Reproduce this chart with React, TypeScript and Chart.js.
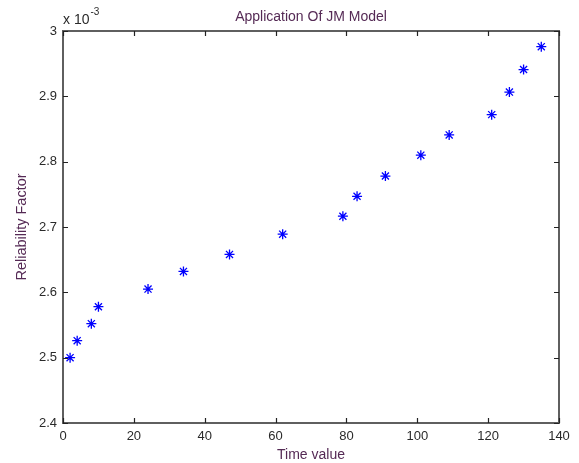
import { useEffect, useRef } from "react";
import { Chart, registerables } from "chart.js";
Chart.register(...registerables);

const chartTitle = "Application Of JM Model";
const xAxisLabel = "Time value";
const yAxisLabel = "Reliability Factor";
const timeValues = [2, 4, 8, 10, 24, 34, 47, 62, 79, 83, 91, 101, 109, 121, 126, 130, 135];
const reliabilityValues = [
  0.0025, 0.002526, 0.002552, 0.002578, 0.002605, 0.002632, 0.002658, 0.002689, 0.0027165,
  0.002747, 0.002778, 0.00281, 0.002841, 0.002872, 0.0029065, 0.002941, 0.002976,
];
const xTicks = [0, 20, 40, 60, 80, 100, 120, 140];
const yTicks = [0.0024, 0.0025, 0.0026, 0.0027, 0.0028, 0.0029, 0.003];
const yTickLabels = ["2.4", "2.5", "2.6", "2.7", "2.8", "2.9", "3"];

const FONT = "'Liberation Sans', Arial, sans-serif";
const TITLE_COLOR = "#552a55";
const TICK_COLOR = "#2a2a2a";
const FRAME_COLOR = "#5f5f5f";

const framePlugin = {
  id: "matlabFrame",
  afterDraw(chart: any) {
    const { ctx, chartArea } = chart;
    const { left, right, top, bottom } = chartArea;
    const xs = chart.scales.x;
    const ys = chart.scales.y;
    ctx.save();
    ctx.strokeStyle = FRAME_COLOR;
    ctx.lineWidth = 2;
    ctx.strokeRect(left, top, right - left, bottom - top);
    ctx.lineWidth = 1.2;
    ctx.strokeStyle = "#222";
    const tl = 5;
    ctx.beginPath();
    xTicks.forEach((v) => {
      const px = Math.round(xs.getPixelForValue(v)) + 0.5;
      ctx.moveTo(px, bottom);
      ctx.lineTo(px, bottom - tl);
      ctx.moveTo(px, top);
      ctx.lineTo(px, top + tl);
    });
    yTicks.forEach((v) => {
      const py = Math.round(ys.getPixelForValue(v)) + 0.5;
      ctx.moveTo(left, py);
      ctx.lineTo(left + tl, py);
      ctx.moveTo(right, py);
      ctx.lineTo(right - tl, py);
    });
    ctx.stroke();

    // Title
    ctx.fillStyle = TITLE_COLOR;
    ctx.font = `14px ${FONT}`;
    ctx.textAlign = "center";
    ctx.textBaseline = "middle";
    const cx = (left + right) / 2;
    ctx.fillText(chartTitle, cx, 17);
    // x label
    ctx.fillText(xAxisLabel, cx, 455);
    // y label
    ctx.save();
    ctx.translate(22, (top + bottom) / 2);
    ctx.rotate(-Math.PI / 2);
    ctx.font = `14.5px ${FONT}`;
    ctx.fillText(yAxisLabel, 0, 0);
    ctx.restore();

    // exponent
    ctx.fillStyle = TICK_COLOR;
    ctx.textAlign = "left";
    ctx.textBaseline = "alphabetic";
    ctx.font = `14px ${FONT}`;
    ctx.fillText("x 10", left, 24);
    const w = ctx.measureText("x 10").width;
    ctx.font = `10px ${FONT}`;
    ctx.fillText("-3", left + w + 1, 15);
    ctx.restore();
  },
};

export default function App() {
  const ref = useRef<HTMLCanvasElement>(null);
  useEffect(() => {
    document.body.style.margin = "0";
    const canvas = ref.current!;
    const chart = new Chart(canvas, {
      type: "scatter",
      data: {
        datasets: [
          {
            data: timeValues.map((t, i) => ({ x: t, y: reliabilityValues[i] })),
            pointStyle: "star",
            radius: 5,
            borderColor: "#0000ff",
            backgroundColor: "#0000ff",
            borderWidth: 1.3,
          },
        ],
      },
      options: {
        animation: false,
        responsive: false,
        devicePixelRatio: 1,
        layout: { padding: { top: 31, right: 20, left: 0, bottom: 0 } },
        plugins: { legend: { display: false }, tooltip: { enabled: false }, title: { display: false } },
        scales: {
          x: {
            type: "linear",
            min: 0,
            max: 140,
            grid: { display: false, drawTicks: false },
            border: { display: false },
            afterBuildTicks: (s: any) => {
              s.ticks = xTicks.map((v) => ({ value: v }));
            },
            afterFit: (s: any) => {
              s.height = 40;
            },
            ticks: {
              padding: 6,
              color: TICK_COLOR,
              font: { family: FONT, size: 13 },
              maxRotation: 0,
              autoSkip: false,
              callback: (v: any) => String(v),
            },
          },
          y: {
            type: "linear",
            min: 0.0024,
            max: 0.003,
            grid: { display: false, drawTicks: false },
            border: { display: false },
            afterBuildTicks: (s: any) => {
              s.ticks = yTicks.map((v) => ({ value: v }));
            },
            afterFit: (s: any) => {
              s.width = 63;
            },
            ticks: {
              padding: 6,
              color: TICK_COLOR,
              font: { family: FONT, size: 13 },
              autoSkip: false,
              callback: (_v: any, i: number) => yTickLabels[i],
            },
          },
        },
      },
      plugins: [framePlugin],
    });
    return () => chart.destroy();
  }, []);
  return <canvas ref={ref} width={579} height={463} style={{ display: "block" }} />;
}
